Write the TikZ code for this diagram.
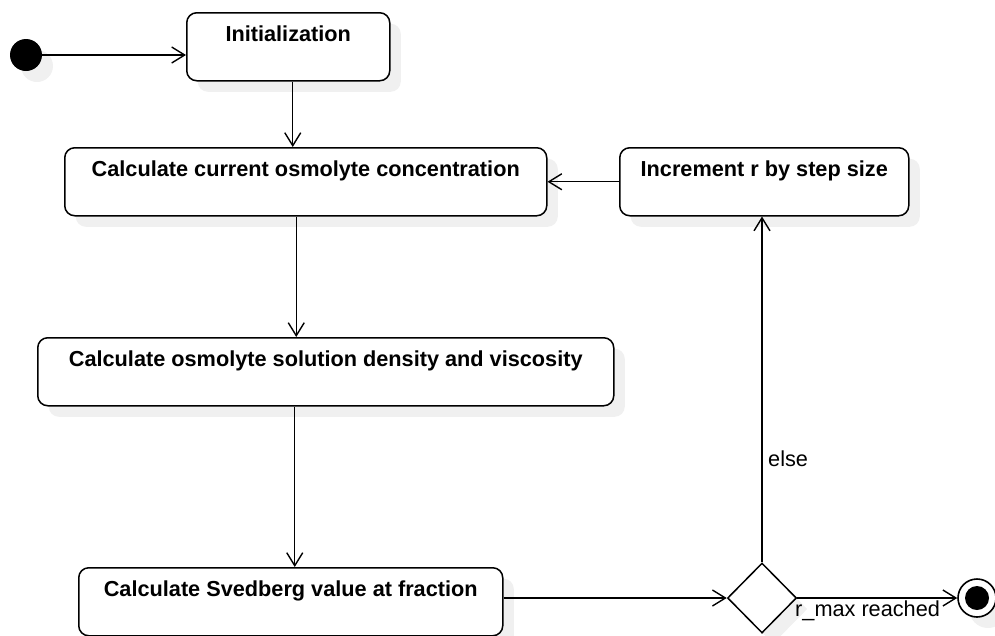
\documentclass[tikz,border=0pt]{standalone}
\usepackage{fontspec}
\setmainfont{Liberation Sans}
\usetikzlibrary{arrows.meta,shapes.geometric,shadows}

\begin{document}
\begin{tikzpicture}[x=1pt,y=-1pt,
  shade/.style={drop shadow={shadow xshift=11pt,shadow yshift=-11pt,opacity=1,fill=black!6}},
  activity/.style={draw,line width=1.5pt,rounded corners=10pt,fill=white,shade,
    anchor=north west,inner xsep=0pt,inner ysep=0pt,text height=29pt,text depth=39pt,
    font=\bfseries\fontsize{21.7}{26}\selectfont},
  flow/.style={line width=1.4pt,-{Straight Barb[length=13pt,width=16pt,line width=1.4pt]}},
  guard/.style={font=\fontsize{21.7}{26}\selectfont,inner sep=0pt,anchor=base west}]

\useasboundingbox (0,0) rectangle (995,635);

% initial and final states
\node[circle,fill=black,minimum size=32pt,inner sep=0pt,shade] (start) at (26,55) {};
\node[circle,draw,line width=1.6pt,fill=white,minimum size=38pt,inner sep=0pt,shade] (stop) at (977,598) {};
\fill (stop.center) circle (12);

% activities
\node[activity,minimum width=203pt] (init) at (186,12) {Initialization};
\node[activity,minimum width=482pt] (conc) at (64,147) {Calculate current osmolyte concentration};
\node[activity,minimum width=289pt] (incr) at (619,147) {Increment r by step size};
\node[activity,minimum width=576pt] (dens) at (37,337) {Calculate osmolyte solution density and viscosity};
\node[activity,minimum width=424pt] (sved) at (78,567) {Calculate Svedberg value at fraction};

% decision
\node[diamond,draw,line width=1.5pt,fill=white,shade,minimum width=69pt,minimum height=70pt,inner sep=0pt] (dec) at (762,598) {};

% transitions
\draw[flow] (start) -- (start -| init.west);
\draw[flow] ([xshift=4.5pt]init.south) -- ([xshift=4.5pt]init.south |- conc.north);
\draw[flow] ([xshift=-9.5pt]conc.south) -- ([xshift=-9.5pt]conc.south |- dens.north);
\draw[flow] ([xshift=-31pt]dens.south) -- ([xshift=-31pt]dens.south |- sved.north);
\draw[flow] (sved.east |- dec.west) -- (dec.west);
\draw[flow] (incr.west) -- (incr.west -| conc.east);
\draw[flow] (dec.north) -- (dec.north |- incr.south);
\draw[flow] (dec.east) -- (stop.west);

% guards
\node[guard] (elselbl) at (768,466) {else};
\node[guard] (donelbl) at (795,616) {r\_max reached};
\end{tikzpicture}
\end{document}
